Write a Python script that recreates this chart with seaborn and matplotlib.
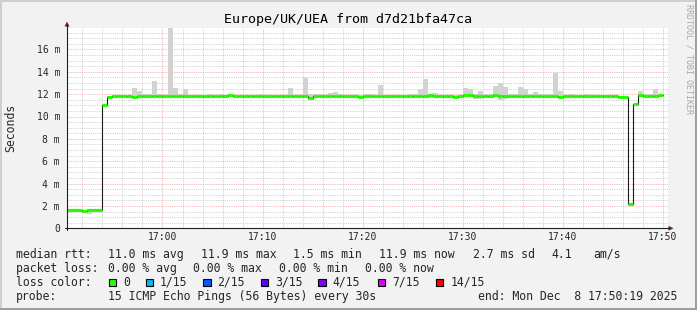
import numpy as np
import pandas as pd
import matplotlib
matplotlib.use("Agg")
import matplotlib.pyplot as plt
from matplotlib.patches import Rectangle, Polygon
from matplotlib.lines import Line2D
import seaborn as sns

# ---------------- data ----------------
# 30 s bins, start minute relative to 17:00 (first bin starts 16:50:00)
bin_minutes = 0.5
first_bin = -10.0

median_ms = [
    1.60, 1.62, 1.66, 1.60, 1.58, 1.63, 1.60, 1.62, 11.00, 11.72,
    11.80, 11.84, 11.84, 11.84, 11.74, 11.84, 11.82, 11.84, 11.84, 11.84,
    11.82, 11.84, 11.84, 11.84, 11.82, 11.84, 11.80, 11.84, 11.82, 11.86,
    11.80, 11.86, 11.80, 11.88, 11.84, 11.82, 11.84, 11.82, 11.84, 11.84,
    11.82, 11.84, 11.84, 11.82, 11.84, 11.80, 11.84, 11.84, 11.84, 11.68,
    11.84, 11.84, 11.82, 11.84, 11.84, 11.84, 11.82, 11.84, 11.84, 11.78,
    11.84, 11.86, 11.84, 11.84, 11.80, 11.84, 11.84, 11.82, 11.84, 11.84,
    11.82, 11.84, 11.84, 11.90, 11.84, 11.84, 11.82, 11.84, 11.72, 11.84,
    11.94, 11.90, 11.84, 11.84, 11.82, 11.84, 11.94, 11.86, 11.84, 11.84,
    11.82, 11.84, 11.84, 11.84, 11.82, 11.84, 11.84, 11.84, 11.82, 11.70,
    11.84, 11.84, 11.84, 11.84, 11.84, 11.84, 11.84, 11.84, 11.84, 11.84,
    11.84, 11.74, 11.72, 2.20, 11.10, 11.88, 11.86, 11.86, 11.86, 11.92,
]

smoke_max_ms = [
    1.70, 1.72, 1.75, 1.70, 1.68, 1.72, 1.70, 1.72, 11.10, 11.85,
    11.92, 11.95, 11.95, 11.95, 12.58, 12.30, 12.02, 12.00, 13.20, 11.98,
    11.95, 18.50, 12.58, 11.98, 12.48, 11.96, 11.95, 11.96, 11.95, 11.98,
    11.95, 11.97, 11.95, 11.98, 11.96, 11.95, 11.96, 11.95, 11.96, 12.00,
    11.95, 11.96, 11.96, 11.95, 11.96, 12.58, 11.96, 11.96, 13.47, 12.05,
    12.05, 11.98, 11.96, 12.10, 12.18, 11.98, 11.96, 11.96, 11.96, 11.95,
    11.98, 12.00, 11.96, 12.83, 11.95, 11.96, 11.96, 11.95, 11.96, 12.00,
    12.00, 12.50, 13.38, 12.02, 12.13, 11.96, 11.95, 11.96, 11.90, 11.96,
    12.58, 12.50, 12.00, 12.28, 11.98, 12.00, 12.73, 13.02, 12.60, 11.98,
    11.98, 12.67, 12.46, 11.98, 12.17, 11.98, 11.98, 11.98, 13.92, 12.28,
    11.96, 12.00, 11.96, 11.96, 12.00, 11.96, 11.96, 11.96, 11.96, 11.96,
    11.96, 11.85, 11.85, 2.25, 11.15, 12.28, 11.98, 11.98, 12.47, 12.00,
]

smoke_min_ms = [
    1.52, 1.54, 1.56, 1.52, 1.50, 1.30, 1.52, 1.54, 10.92, 11.62,
    11.70, 11.74, 11.74, 11.74, 11.64, 11.74, 11.72, 11.74, 11.74, 11.74,
    11.72, 11.74, 11.74, 11.74, 11.72, 11.74, 11.66, 11.66, 11.66, 11.66,
    11.70, 11.76, 11.70, 11.78, 11.74, 11.72, 11.74, 11.72, 11.74, 11.74,
    11.72, 11.74, 11.74, 11.72, 11.74, 11.70, 11.74, 11.74, 11.74, 11.60,
    11.74, 11.74, 11.72, 11.74, 11.74, 11.74, 11.72, 11.74, 11.74, 11.68,
    11.74, 11.76, 11.74, 11.74, 11.70, 11.74, 11.74, 11.72, 11.74, 11.63,
    11.63, 11.74, 11.74, 11.63, 11.74, 11.74, 11.72, 11.74, 11.64, 11.74,
    11.84, 11.80, 11.60, 11.60, 11.72, 11.74, 11.84, 11.48, 11.54, 11.74,
    11.72, 11.74, 11.74, 11.74, 11.72, 11.74, 11.74, 11.74, 11.72, 11.60,
    11.74, 11.74, 11.74, 11.74, 11.74, 11.74, 11.74, 11.74, 11.63, 11.63,
    11.74, 11.66, 11.64, 2.12, 11.02, 11.78, 11.76, 11.76, 11.76, 11.82,
]

x_tick_minutes = [0, 10, 20, 30, 40, 50]
x_tick_labels = ["17:00", "17:10", "17:20", "17:30", "17:40", "17:50"]
y_tick_values = [0, 2, 4, 6, 8, 10, 12, 14, 16]
y_tick_labels = ["0", "2 m", "4 m", "6 m", "8 m", "10 m", "12 m", "14 m", "16 m"]

loss_labels = ["0", "1/15", "2/15", "3/15", "4/15", "7/15", "14/15"]
loss_colors = ["#26ff00", "#00b8ff", "#0059ff", "#5e00ff", "#7e00ff", "#dd00ff", "#ff0000"]

title = "Europe/UK/UEA from d7d21bfa47ca"
stats_rtt = ["11.0 ms avg", "11.9 ms max", "1.5 ms min", "11.9 ms now", "2.7 ms sd", "4.1", "am/s"]
stats_loss = ["0.00 % avg", "0.00 % max", "0.00 % min", "0.00 % now"]
probe_text = "15 ICMP Echo Pings (56 Bytes) every 30s"
end_text = "end: Mon Dec  8 17:50:19 2025"

# ---------------- figure ----------------
sns.set_style("white")
plt.rcParams["font.family"] = ["DejaVu Sans Mono"]

W, H = 697, 310
fig = plt.figure(figsize=(W / 100, H / 100), dpi=100, facecolor="#F2F2F2")

def fx(px):
    return px / W

def fy(py):
    return 1 - py / H

ax_l, ax_r, ax_t, ax_b = 67, 668, 27.7, 228.3
ax = fig.add_axes([fx(ax_l), fy(ax_b), fx(ax_r - ax_l), (ax_b - ax_t) / H])
ax.set_facecolor("white")

n = len(median_ms)
starts = first_bin + bin_minutes * np.arange(n)
med = np.array(median_ms)
smax = np.array(smoke_max_ms)
smin = np.array(smoke_min_ms)

# smoke
ax.bar(starts, smax - smin, bottom=smin, width=bin_minutes, align="edge",
       color="#d2d2d2", linewidth=0, zorder=2)

# black median step line
df = pd.DataFrame({"t": np.append(starts, starts[-1] + bin_minutes),
                   "v": np.append(med, med[-1])})
sns.lineplot(data=df, x="t", y="v", ax=ax, drawstyle="steps-post",
             color="#1a1a1a", linewidth=0.8, zorder=3, estimator=None)

# green loss-coloured median segments
ax.hlines(med, starts, starts + bin_minutes, colors=loss_colors[0],
          linewidth=2.3, zorder=4, capstyle="butt")

ax.set_xlim(-9.54, 50.5)
ax.set_ylim(0, (ax_b - ax_t) / 11.18)

ax.set_xticks(x_tick_minutes)
ax.set_xticklabels(x_tick_labels, fontsize=7)
ax.set_xticks(np.arange(-8, 51, 2), minor=True)
ax.set_yticks(y_tick_values)
ax.set_yticklabels(y_tick_labels, fontsize=7)
ax.set_yticks(np.arange(0, 18, 0.5), minor=True)
ax.tick_params(axis="x", which="both", length=0, pad=2.6)
ax.tick_params(axis="y", which="both", length=0, pad=5)
ax.set_xlabel("")
ax.set_ylabel("")

ax.grid(which="minor", color="#c4c4c4", linestyle=(0, (1, 1.2)), linewidth=0.6, zorder=0)
ax.grid(which="major", color="#eea0a0", linestyle=(0, (1, 1.2)), linewidth=0.6, zorder=0)
ax.set_axisbelow(True)

for s in ax.spines.values():
    s.set_visible(False)

# axis lines with arrows
axis_col = "#1f1f1f"
arrow_col = "#801f1f"
fig.add_artist(Line2D([fx(ax_l), fx(ax_l)], [fy(ax_b + 2), fy(24)], color=axis_col, lw=0.8))
fig.add_artist(Line2D([fx(ax_l - 2), fx(670)], [fy(ax_b), fy(ax_b)], color=axis_col, lw=0.8))
fig.add_artist(Polygon([[fx(64.5), fy(26.5)], [fx(69.5), fy(26.5)], [fx(67), fy(21.5)]],
                       closed=True, color=arrow_col, lw=0))
fig.add_artist(Polygon([[fx(668.5), fy(ax_b - 2.5)], [fx(668.5), fy(ax_b + 2.5)], [fx(673.5), fy(ax_b)]],
                       closed=True, color=arrow_col, lw=0))

# frame bevel
fig.add_artist(Rectangle((0, fy(2)), 1, 2 / H, color="#CFCFCF", lw=0))
fig.add_artist(Rectangle((0, 0), 2 / W, 1, color="#CFCFCF", lw=0))
fig.add_artist(Rectangle((0, 0), 1, 2 / H, color="#9E9E9E", lw=0))
fig.add_artist(Rectangle((fx(W - 2), 0), 2 / W, 1, color="#9E9E9E", lw=0))

# texts
fig.text(fx(348.5), fy(19), title, ha="center", va="center", fontsize=9.6, color="black")
fig.text(fx(10.8), fy(128), "Seconds", rotation=90, ha="center", va="center", fontsize=8.3)
fig.text(fx(689), fy(59), "RRDTOOL / TOBI OETIKER", rotation=270, ha="center", va="center",
         fontsize=6, color="#a8a8a8")

fs = 8.3
row_y = [254.3, 268.3, 282.3, 296.3]
fig.text(fx(16), fy(row_y[0]), "median rtt:", ha="left", va="center", fontsize=fs)
for xp, s in zip([107.7, 201, 293.3, 379.3, 472.7, 551, 593.3], stats_rtt):
    fig.text(fx(xp), fy(row_y[0]), s, ha="left", va="center", fontsize=fs)

fig.text(fx(16), fy(row_y[1]), "packet loss:", ha="left", va="center", fontsize=fs)
for xp, s in zip([107.7, 193.3, 279.3, 365], stats_loss):
    fig.text(fx(xp), fy(row_y[1]), s, ha="left", va="center", fontsize=fs)

fig.text(fx(16), fy(row_y[2]), "loss color:", ha="left", va="center", fontsize=fs)
box_x = [108.7, 145.7, 203.3, 260.7, 318.3, 377.7, 435.7]
lab_x = [123.3, 160, 217.3, 275, 332.7, 392.7, 450.7]
for bx, lx, lab, col in zip(box_x, lab_x, loss_labels, loss_colors):
    fig.add_artist(Rectangle((fx(bx), fy(row_y[2] + 3.8)), 7.3 / W, 7.6 / H,
                             facecolor=col, edgecolor="black", lw=0.8))
    fig.text(fx(lx), fy(row_y[2]), lab, ha="left", va="center", fontsize=fs)

fig.text(fx(16), fy(row_y[3]), "probe:", ha="left", va="center", fontsize=fs)
fig.text(fx(107.7), fy(row_y[3]), probe_text, ha="left", va="center", fontsize=fs)
fig.text(fx(478.3), fy(row_y[3]), end_text, ha="left", va="center", fontsize=fs)

fig.savefig("out.png", dpi=100, facecolor=fig.get_facecolor())
